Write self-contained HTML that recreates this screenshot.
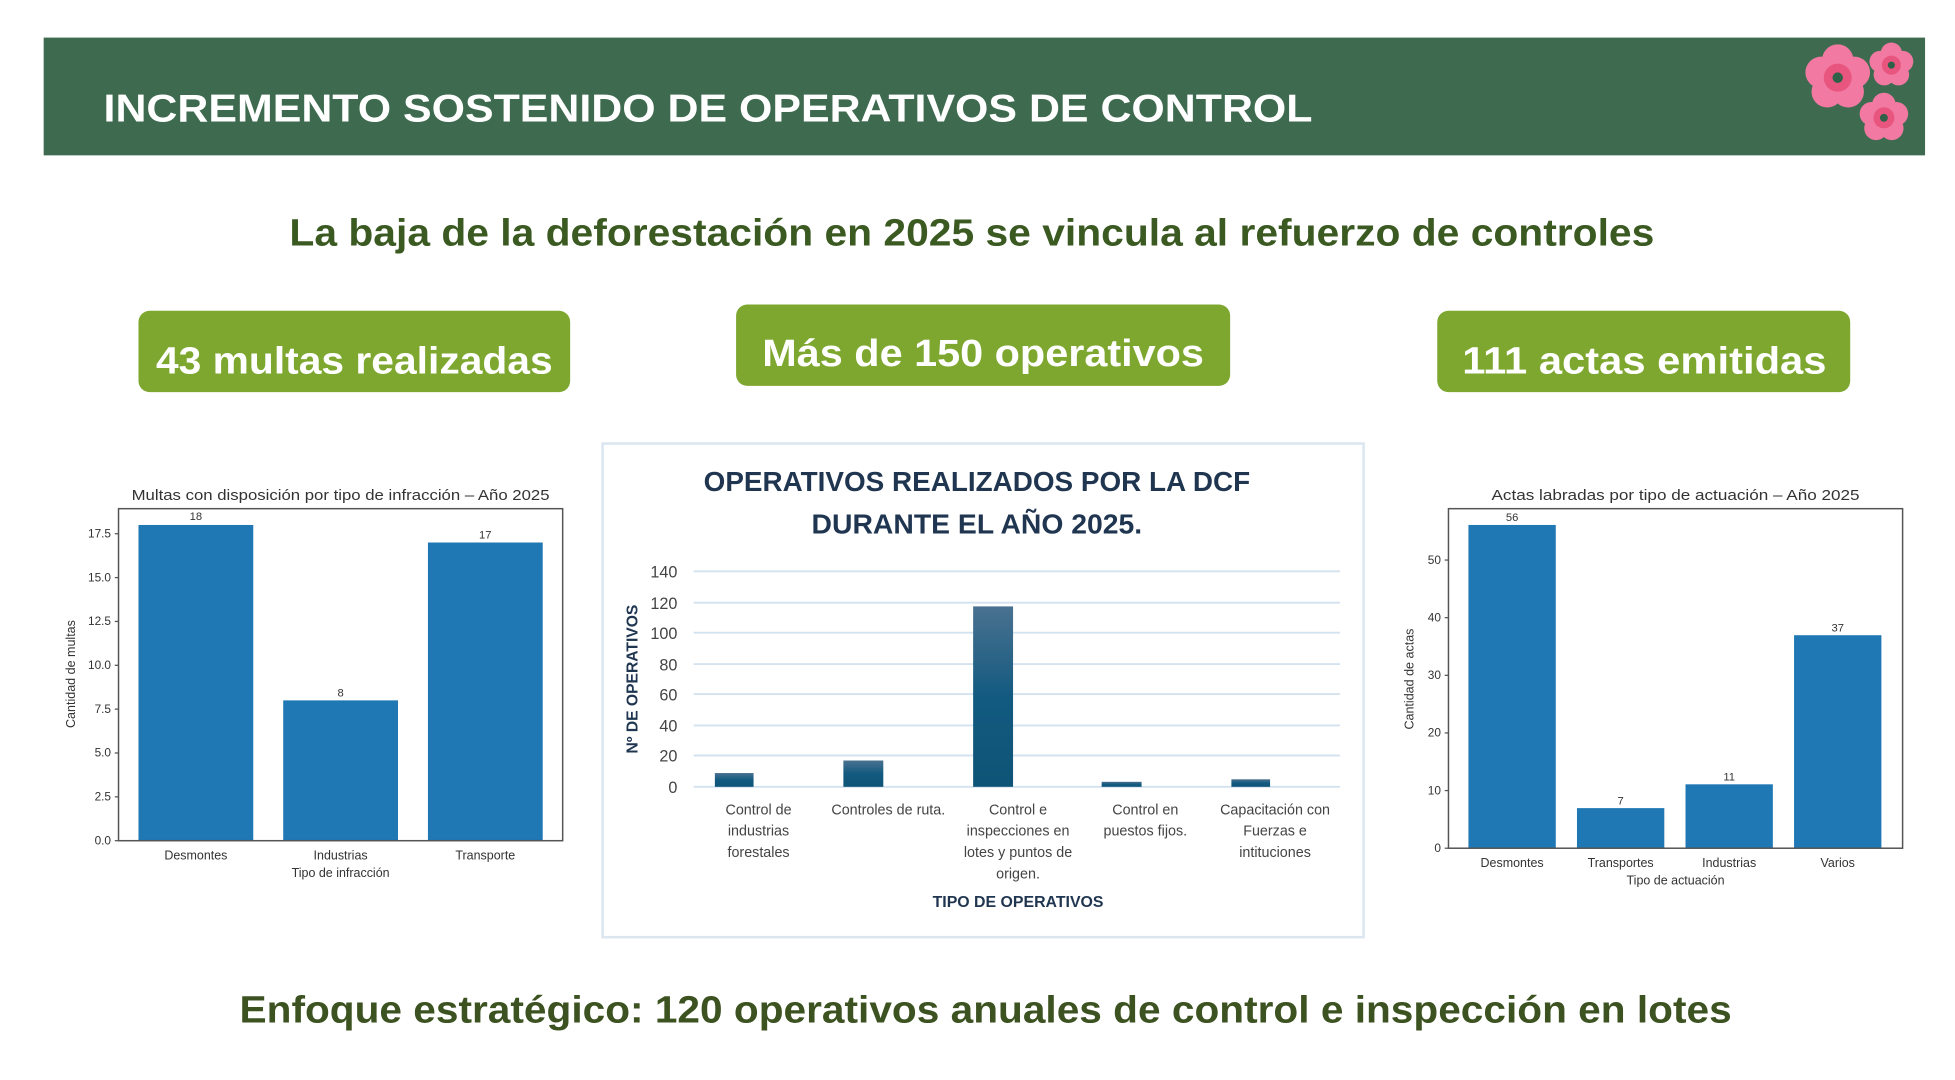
<!DOCTYPE html>
<html><head><meta charset="utf-8"><style>html,body{margin:0;padding:0;background:#fff}svg{display:block}</style></head>
<body>
<svg width="1955" height="1080" viewBox="0 0 1567 862" preserveAspectRatio="none" xmlns="http://www.w3.org/2000/svg" font-family="Liberation Sans, DejaVu Sans, sans-serif">
<defs>
<linearGradient id="g" x1="0" y1="0" x2="0" y2="1"><stop offset="0" stop-color="#4a7190"/><stop offset="0.5" stop-color="#135a80"/><stop offset="1" stop-color="#0e5477"/></linearGradient>
<g id="fl"><circle cx="0" cy="-10" r="9" fill="#f27aa2"/><circle cx="9.5" cy="-3" r="9" fill="#f27aa2"/><circle cx="6" cy="8" r="9" fill="#f27aa2"/><circle cx="-6" cy="8" r="9" fill="#f27aa2"/><circle cx="-9.5" cy="-3" r="9" fill="#f27aa2"/><circle r="8" fill="#e8557f"/><circle r="3" fill="#2f6048"/></g>
</defs>
<rect width="1567" height="862" fill="#fff"/>
<rect x="35" y="30" width="1508" height="94" fill="#3e6b4f"/>
<text x="83" y="97" fill="#fff" font-weight="bold" font-size="31" textLength="969" lengthAdjust="spacingAndGlyphs">INCREMENTO SOSTENIDO DE  OPERATIVOS DE CONTROL</text>
<use href="#fl" transform="translate(1473,62) scale(1.4)"/>
<use href="#fl" transform="translate(1516,52) scale(0.95)"/>
<use href="#fl" transform="translate(1510,94) scale(1.05)"/>
<text x="779" y="196" text-anchor="middle" fill="#3b5a22" font-weight="bold" font-size="30" textLength="1094" lengthAdjust="spacingAndGlyphs">La baja de la deforestación en 2025 se vincula al refuerzo de controles</text>
<rect x="111" y="248" width="346" height="65" rx="9" fill="#7ea72f"/>
<text x="284" y="298" text-anchor="middle" fill="#fff" font-weight="bold" font-size="30" textLength="318" lengthAdjust="spacingAndGlyphs">43 multas realizadas</text>
<rect x="590" y="243" width="396" height="65" rx="9" fill="#7ea72f"/>
<text x="788" y="292" text-anchor="middle" fill="#fff" font-weight="bold" font-size="30" textLength="354" lengthAdjust="spacingAndGlyphs">Más de 150 operativos</text>
<rect x="1152" y="248" width="331" height="65" rx="9" fill="#7ea72f"/>
<text x="1318" y="298" text-anchor="middle" fill="#fff" font-weight="bold" font-size="30" textLength="292" lengthAdjust="spacingAndGlyphs">111 actas emitidas</text>

<g font-size="10" fill="#333">
<text x="273" y="399" text-anchor="middle" font-size="12" textLength="335" lengthAdjust="spacingAndGlyphs">Multas con disposición por tipo de infracción – Año 2025</text>
<rect x="111" y="419" width="92" height="252" fill="#1f77b4"/>
<rect x="227" y="559" width="92" height="112" fill="#1f77b4"/>
<rect x="343" y="433" width="92" height="238" fill="#1f77b4"/>
<rect x="95" y="406" width="356" height="265" fill="none" stroke="#555" stroke-width="1.2"/>
<text x="157" y="415" text-anchor="middle" font-size="9">18</text>
<text x="273" y="556" text-anchor="middle" font-size="9">8</text>
<text x="389" y="430" text-anchor="middle" font-size="9">17</text>
<g text-anchor="end" font-size="9.5">
<text x="89" y="674">0.0</text><text x="89" y="639">2.5</text><text x="89" y="604">5.0</text><text x="89" y="569">7.5</text><text x="89" y="534">10.0</text><text x="89" y="499">12.5</text><text x="89" y="464">15.0</text><text x="89" y="429">17.5</text>
</g>
<g stroke="#555"><line x1="92" y1="671" x2="95" y2="671"/><line x1="92" y1="636" x2="95" y2="636"/><line x1="92" y1="601" x2="95" y2="601"/><line x1="92" y1="566" x2="95" y2="566"/><line x1="92" y1="531" x2="95" y2="531"/><line x1="92" y1="496" x2="95" y2="496"/><line x1="92" y1="461" x2="95" y2="461"/><line x1="92" y1="426" x2="95" y2="426"/></g>
<text x="157" y="686" text-anchor="middle">Desmontes</text><text x="273" y="686" text-anchor="middle">Industrias</text><text x="389" y="686" text-anchor="middle">Transporte</text>
<text x="273" y="700" text-anchor="middle">Tipo de infracción</text>
<text transform="translate(60,538) rotate(-90)" text-anchor="middle">Cantidad de multas</text>
</g>

<rect x="483" y="354" width="610" height="394" fill="#fff" stroke="#dbe6f0" stroke-width="2"/>
<g fill="#1f3550" font-weight="bold" font-size="22" text-anchor="middle">
<text x="783" y="392" textLength="438" lengthAdjust="spacingAndGlyphs">OPERATIVOS  REALIZADOS POR LA DCF</text>
<text x="783" y="426" textLength="265" lengthAdjust="spacingAndGlyphs">DURANTE EL AÑO 2025.</text>
</g>
<g stroke="#d4e2f0" stroke-width="1.5">
<line x1="556" y1="456" x2="1074" y2="456"/><line x1="556" y1="481" x2="1074" y2="481"/><line x1="556" y1="505" x2="1074" y2="505"/><line x1="556" y1="530" x2="1074" y2="530"/><line x1="556" y1="554" x2="1074" y2="554"/><line x1="556" y1="579" x2="1074" y2="579"/><line x1="556" y1="603" x2="1074" y2="603"/><line x1="556" y1="628" x2="1074" y2="628"/>
</g>
<rect x="573" y="617" width="31" height="11" fill="url(#g)"/>
<rect x="676" y="607" width="32" height="21" fill="url(#g)"/>
<rect x="780" y="484" width="32" height="144" fill="url(#g)"/>
<rect x="883" y="624" width="32" height="4" fill="url(#g)"/>
<rect x="987" y="622" width="31" height="6" fill="url(#g)"/>
<g fill="#444" font-size="13" text-anchor="end">
<text x="543" y="461">140</text><text x="543" y="486">120</text><text x="543" y="510">100</text><text x="543" y="535">80</text><text x="543" y="559">60</text><text x="543" y="584">40</text><text x="543" y="608">20</text><text x="543" y="633">0</text>
</g>
<g fill="#444" font-size="11.5" text-anchor="middle">
<text x="608" y="650">Control de</text><text x="608" y="667">industrias</text><text x="608" y="684">forestales</text>
<text x="712" y="650">Controles de ruta.</text>
<text x="816" y="650">Control e</text><text x="816" y="667">inspecciones en</text><text x="816" y="684">lotes y puntos de</text><text x="816" y="701">origen.</text>
<text x="918" y="650">Control en</text><text x="918" y="667">puestos fijos.</text>
<text x="1022" y="650">Capacitación con</text><text x="1022" y="667">Fuerzas e</text><text x="1022" y="684">intituciones</text>
</g>
<text x="816" y="724" text-anchor="middle" fill="#1f3550" font-weight="bold" font-size="12.5" textLength="137" lengthAdjust="spacingAndGlyphs">TIPO DE OPERATIVOS</text>
<text transform="translate(511,542) rotate(-90)" text-anchor="middle" fill="#1f3550" font-weight="bold" font-size="12.5">Nº DE OPERATIVOS</text>

<g font-size="10" fill="#333">
<text x="1343" y="399" text-anchor="middle" font-size="12" textLength="295" lengthAdjust="spacingAndGlyphs">Actas labradas por tipo de actuación – Año 2025</text>
<rect x="1177" y="419" width="70" height="258" fill="#1f77b4"/>
<rect x="1264" y="645" width="70" height="32" fill="#1f77b4"/>
<rect x="1351" y="626" width="70" height="51" fill="#1f77b4"/>
<rect x="1438" y="507" width="70" height="170" fill="#1f77b4"/>
<rect x="1161" y="406" width="364" height="271" fill="none" stroke="#555" stroke-width="1.2"/>
<text x="1212" y="416" text-anchor="middle" font-size="9">56</text>
<text x="1299" y="642" text-anchor="middle" font-size="9">7</text>
<text x="1386" y="623" text-anchor="middle" font-size="9">11</text>
<text x="1473" y="504" text-anchor="middle" font-size="9">37</text>
<g text-anchor="end" font-size="9.5">
<text x="1155" y="680">0</text><text x="1155" y="634">10</text><text x="1155" y="588">20</text><text x="1155" y="542">30</text><text x="1155" y="496">40</text><text x="1155" y="450">50</text>
</g>
<g stroke="#555"><line x1="1158" y1="677" x2="1161" y2="677"/><line x1="1158" y1="631" x2="1161" y2="631"/><line x1="1158" y1="585" x2="1161" y2="585"/><line x1="1158" y1="539" x2="1161" y2="539"/><line x1="1158" y1="493" x2="1161" y2="493"/><line x1="1158" y1="447" x2="1161" y2="447"/></g>
<text x="1212" y="692" text-anchor="middle">Desmontes</text><text x="1299" y="692" text-anchor="middle">Transportes</text><text x="1386" y="692" text-anchor="middle">Industrias</text><text x="1473" y="692" text-anchor="middle">Varios</text>
<text x="1343" y="706" text-anchor="middle">Tipo de actuación</text>
<text transform="translate(1133,542) rotate(-90)" text-anchor="middle">Cantidad de actas</text>
</g>

<text x="790" y="816" text-anchor="middle" fill="#3c5220" font-weight="bold" font-size="30" textLength="1196" lengthAdjust="spacingAndGlyphs">Enfoque estratégico: 120 operativos anuales de control e inspección en lotes</text>
</svg>
</body></html>
